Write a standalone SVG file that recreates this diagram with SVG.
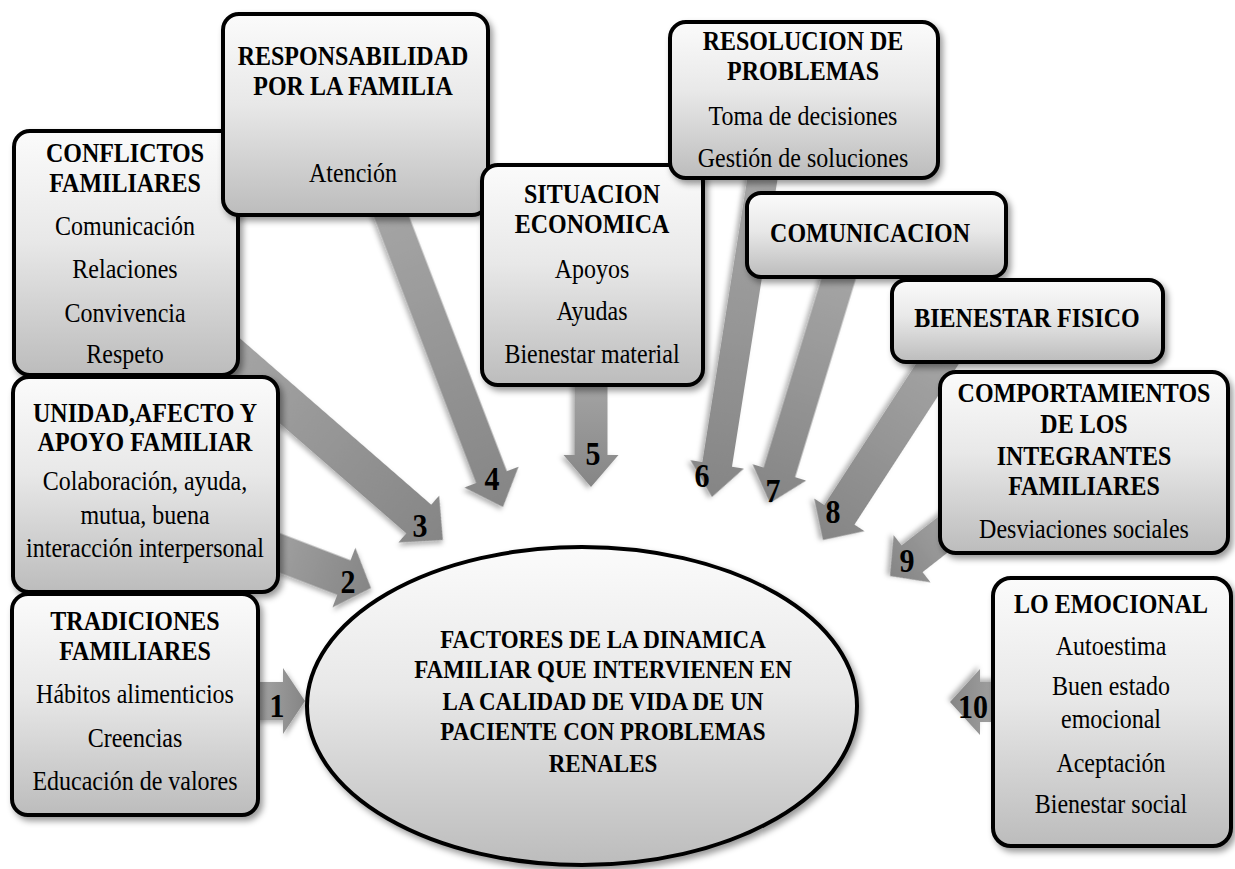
<svg xmlns="http://www.w3.org/2000/svg" width="1235" height="869" viewBox="0 0 1235 869">
<style>
text{font-family:"Liberation Serif","Times New Roman",serif;text-anchor:middle;fill:#000}
.h{font-size:24px;font-weight:bold}
.b{font-size:24px}
.t{font-size:23px;font-weight:bold}
.n{font-size:30px;font-weight:bold}
.box{fill:url(#gbox);stroke:#000;stroke-width:4;filter:url(#sh)}
.arr{fill:url(#garr);filter:url(#sh2)}
</style>
<defs>
<linearGradient id="gbox" x1="0" y1="0" x2="0" y2="1">
<stop offset="0" stop-color="#fbfbfb"/>
<stop offset="0.45" stop-color="#e8e8e8"/>
<stop offset="1" stop-color="#bcbcbc"/>
</linearGradient>
<linearGradient id="garr" x1="0" y1="0" x2="1" y2="0">
<stop offset="0" stop-color="#a6a6a6"/>
<stop offset="1" stop-color="#858585"/>
</linearGradient>
<filter id="sh" x="-10%" y="-10%" width="125%" height="125%">
<feDropShadow dx="3" dy="4" stdDeviation="3" flood-color="#000" flood-opacity="0.4"/>
</filter>
<filter id="sh2" x="-20%" y="-20%" width="140%" height="140%">
<feDropShadow dx="2" dy="3" stdDeviation="2.5" flood-color="#000" flood-opacity="0.3"/>
</filter>
</defs>
<rect width="1235" height="869" fill="#fff"/>
<g id="connectors">
<path class="arr" transform="translate(255,701) rotate(0)" d="M0,-19 L28,-19 L28,-33 L50,0 L28,33 L28,19 L0,19 Z"/>
<path class="arr" transform="translate(249.6,541.4) rotate(21)" d="M0,-18.5 L101,-18.5 L101,-32 L130,0 L101,32 L101,18.5 L0,18.5 Z"/>
<path class="arr" transform="translate(216.5,343.2) rotate(41)" d="M0,-19 L268,-19 L268,-31 L300,0 L268,31 L268,19 L0,19 Z"/>
<path class="arr" transform="translate(384.7,198.9) rotate(69)" d="M0,-16.5 L298,-16.5 L298,-29 L330,0 L298,29 L298,16.5 L0,16.5 Z"/>
<path class="arr" transform="translate(591,377) rotate(90)" d="M0,-16.5 L78,-16.5 L78,-27.5 L110,0 L78,27.5 L78,16.5 L0,16.5 Z"/>
<path class="arr" transform="translate(764.4,166.1) rotate(99)" d="M0,-15 L302,-15 L302,-27 L335,0 L302,27 L302,15 L0,15 Z"/>
<path class="arr" transform="translate(843.1,263.9) rotate(107)" d="M0,-16.5 L218,-16.5 L218,-28 L250,0 L218,28 L218,16.5 L0,16.5 Z"/>
<path class="arr" transform="translate(951,342.9) rotate(123)" d="M0,-18 L205,-18 L205,-30 L235,0 L205,30 L205,18 L0,18 Z"/>
<path class="arr" transform="translate(964.9,517.5) rotate(142)" d="M0,-17 L67,-17 L67,-30 L95,0 L67,30 L67,17 L0,17 Z"/>
<path class="arr" transform="translate(1005,702) rotate(180)" d="M0,-20 L25,-20 L25,-33 L55,0 L25,33 L25,20 L0,20 Z"/>
</g>
<g id="n-conflictos">
<rect class="box" x="14" y="131" width="224" height="244" rx="16"/>
<text class="h" transform="matrix(1 0 0 1.12 125 162)">CONFLICTOS</text>
<text class="h" transform="matrix(1 0 0 1.12 125 192)">FAMILIARES</text>
<text class="b" transform="matrix(1 0 0 1.12 125 235)">Comunicación</text>
<text class="b" transform="matrix(1 0 0 1.12 125 278)">Relaciones</text>
<text class="b" transform="matrix(1 0 0 1.12 125 322)">Convivencia</text>
<text class="b" transform="matrix(1 0 0 1.12 125 363)">Respeto</text>
</g>
<g id="n-responsabilidad">
<rect class="box" x="223" y="14" width="265" height="201" rx="16"/>
<text class="h" transform="matrix(1 0 0 1.12 353 65)">RESPONSABILIDAD</text>
<text class="h" transform="matrix(1 0 0 1.12 353 95)">POR LA FAMILIA</text>
<text class="b" transform="matrix(1 0 0 1.12 353 182)">Atención</text>
</g>
<g id="n-situacion">
<rect class="box" x="482" y="165" width="221" height="220" rx="16"/>
<text class="h" transform="matrix(1 0 0 1.12 592 203)">SITUACION</text>
<text class="h" transform="matrix(1 0 0 1.12 592 233)">ECONOMICA</text>
<text class="b" transform="matrix(1 0 0 1.12 592 278)">Apoyos</text>
<text class="b" transform="matrix(1 0 0 1.12 592 320)">Ayudas</text>
<text class="b" transform="matrix(1 0 0 1.12 592 363)">Bienestar material</text>
</g>
<g id="n-resolucion">
<rect class="box" x="670" y="22" width="268" height="156" rx="16"/>
<text class="h" transform="matrix(1 0 0 1.12 803 50)">RESOLUCION DE</text>
<text class="h" transform="matrix(1 0 0 1.12 803 80)">PROBLEMAS</text>
<text class="b" transform="matrix(1 0 0 1.12 803 125)">Toma de decisiones</text>
<text class="b" transform="matrix(1 0 0 1.12 803 167)">Gestión de soluciones</text>
</g>
<g id="n-comunicacion">
<rect class="box" x="747" y="193" width="259" height="84" rx="14"/>
<text class="h" transform="matrix(1 0 0 1.12 870 242)">COMUNICACION</text>
</g>
<g id="n-bienestar">
<rect class="box" x="892" y="280" width="271" height="82" rx="14"/>
<text class="h" transform="matrix(1 0 0 1.12 1027 327)">BIENESTAR FISICO</text>
</g>
<g id="n-comportamientos">
<rect class="box" x="940" y="372" width="288" height="181" rx="16"/>
<text class="h" transform="matrix(1 0 0 1.12 1084 402)">COMPORTAMIENTOS</text>
<text class="h" transform="matrix(1 0 0 1.12 1084 433)">DE LOS</text>
<text class="h" transform="matrix(1 0 0 1.12 1084 465)">INTEGRANTES</text>
<text class="h" transform="matrix(1 0 0 1.12 1084 495)">FAMILIARES</text>
<text class="b" transform="matrix(1 0 0 1.12 1084 538)">Desviaciones sociales</text>
</g>
<g id="n-unidad">
<rect class="box" x="13" y="377" width="265" height="215" rx="16"/>
<text class="h" transform="matrix(1 0 0 1.12 145 422)">UNIDAD,AFECTO Y</text>
<text class="h" transform="matrix(1 0 0 1.12 145 451)">APOYO FAMILIAR</text>
<text class="b" transform="matrix(1 0 0 1.12 145 490)">Colaboración, ayuda,</text>
<text class="b" transform="matrix(1 0 0 1.12 145 524)">mutua, buena</text>
<text class="b" transform="matrix(1 0 0 1.12 145 557)">interacción interpersonal</text>
</g>
<g id="n-tradiciones">
<rect class="box" x="12" y="594" width="246" height="221" rx="16"/>
<text class="h" transform="matrix(1 0 0 1.12 135 630)">TRADICIONES</text>
<text class="h" transform="matrix(1 0 0 1.12 135 660)">FAMILIARES</text>
<text class="b" transform="matrix(1 0 0 1.12 135 703)">Hábitos alimenticios</text>
<text class="b" transform="matrix(1 0 0 1.12 135 747)">Creencias</text>
<text class="b" transform="matrix(1 0 0 1.12 135 790)">Educación de valores</text>
</g>
<g id="n-emocional">
<rect class="box" x="993" y="578" width="238" height="268" rx="18"/>
<text class="h" transform="matrix(1 0 0 1.12 1111 613)">LO EMOCIONAL</text>
<text class="b" transform="matrix(1 0 0 1.12 1111 655)">Autoestima</text>
<text class="b" transform="matrix(1 0 0 1.12 1111 695)">Buen estado</text>
<text class="b" transform="matrix(1 0 0 1.12 1111 728)">emocional</text>
<text class="b" transform="matrix(1 0 0 1.12 1111 772)">Aceptación</text>
<text class="b" transform="matrix(1 0 0 1.12 1111 813)">Bienestar social</text>
</g>
<g id="n-centro">
<ellipse cx="582" cy="706" rx="275" ry="159" fill="url(#gbox)" stroke="#000" stroke-width="4" filter="url(#sh)"/>
<text class="t" transform="matrix(1 0 0 1.12 603 648)">FACTORES DE LA DINAMICA</text>
<text class="t" transform="matrix(1 0 0 1.12 603 678)">FAMILIAR QUE INTERVIENEN EN</text>
<text class="t" transform="matrix(1 0 0 1.12 603 710)">LA CALIDAD DE VIDA DE UN</text>
<text class="t" transform="matrix(1 0 0 1.12 603 740)">PACIENTE CON PROBLEMAS</text>
<text class="t" transform="matrix(1 0 0 1.12 603 772)">RENALES</text>
</g>
<g id="labels">
<text class="n" transform="matrix(1 0 0 1.12 277 717)">1</text>
<text class="n" transform="matrix(1 0 0 1.12 348 593)">2</text>
<text class="n" transform="matrix(1 0 0 1.12 420 537)">3</text>
<text class="n" transform="matrix(1 0 0 1.12 492 490)">4</text>
<text class="n" transform="matrix(1 0 0 1.12 593 465)">5</text>
<text class="n" transform="matrix(1 0 0 1.12 702 487)">6</text>
<text class="n" transform="matrix(1 0 0 1.12 773 502)">7</text>
<text class="n" transform="matrix(1 0 0 1.12 833 523)">8</text>
<text class="n" transform="matrix(1 0 0 1.12 907 572)">9</text>
<text class="n" transform="matrix(1 0 0 1.12 973 718)">10</text>
</g>
</svg>
